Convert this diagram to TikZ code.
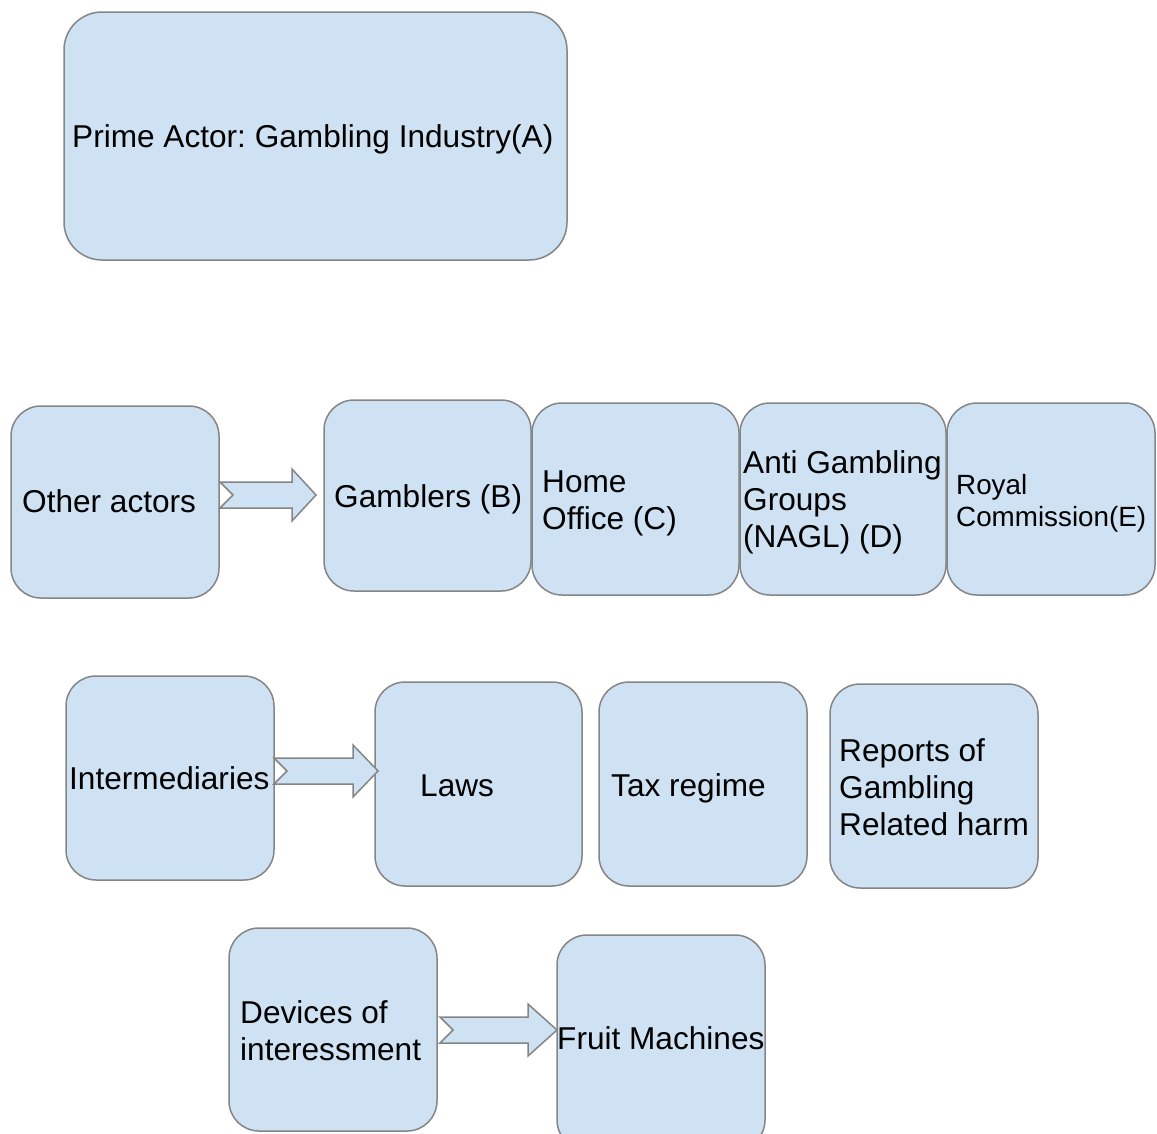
\documentclass[tikz,border=0pt]{standalone}
\usepackage{fontspec}
\setmainfont{Liberation Sans}
\frenchspacing
\definecolor{boxfill}{HTML}{CFE2F3}
\definecolor{boxline}{HTML}{858585}
\newcommand\blockarr[5]{% name, tail x, tip x, center y, head length
  \draw[arr] (#2,#4-13) -- (#3-#5,#4-13) -- (#3-#5,#4-26) -- (#3,#4)
    -- (#3-#5,#4+26) -- (#3-#5,#4+13) -- (#2,#4+13) -- (#2+13,#4) -- cycle;
  \coordinate (#1) at (#3,#4);}
\begin{document}
\begin{tikzpicture}[x=1pt,y=-1pt,
  box/.style={draw=boxline, fill=boxfill, line width=1.5pt, rounded corners=30pt,
    anchor=north west, inner sep=0pt, outer sep=0pt},
  bigbox/.style={box, rounded corners=38pt},
  txt/.style={anchor=base west, inner sep=0pt, font=\fontsize{31.6}{37}\selectfont},
  small/.style={txt, font=\fontsize{27.8}{32}\selectfont},
  arr/.style={draw=boxline, fill=boxfill, line width=1.5pt, line join=miter}]
\useasboundingbox (0,0) rectangle (1157,1133);
\clip (0,0) rectangle (1157,1133);
% boxes
\node[bigbox, minimum width=503pt, minimum height=248pt] (A) at (64,12) {};
\node[box, minimum width=208pt, minimum height=192pt] (oth) at (11,406) {};
\node[box, minimum width=207pt, minimum height=191pt] (B) at (324,400) {};
\node[box, minimum width=207pt, minimum height=192pt] (C) at (532,403) {};
\node[box, minimum width=206pt, minimum height=192pt] (D) at (740,403) {};
\node[box, minimum width=208pt, minimum height=192pt] (E) at (947,403) {};
\node[box, minimum width=208pt, minimum height=204pt] (int) at (66,676) {};
\node[box, minimum width=207pt, minimum height=204pt] (law) at (375,682) {};
\node[box, minimum width=208pt, minimum height=204pt] (tax) at (599,682) {};
\node[box, minimum width=208pt, minimum height=204pt] (rep) at (830,684) {};
\node[box, minimum width=208pt, minimum height=203pt] (dev) at (229,928) {};
\node[box, minimum width=208pt, minimum height=215pt] (fru) at (557,935) {};
% texts
\node[txt] (tA) at (72,147) {Prime Actor: Gambling Industry(A)};
\node[txt] (toth) at (22,512) {Other actors};
\node[txt] (tB) at (334,507) {Gamblers (B)};
\node[txt] (tC1) at (542,492) {Home};
\node[txt] (tC2) at (542,529) {Office (C)};
\node[txt] (tD1) at (743,473) {Anti Gambling};
\node[txt] (tD2) at (743,510) {Groups};
\node[txt] (tD3) at (743,547) {(NAGL) (D)};
\node[small] (tE1) at (956,494) {Royal};
\node[small] (tE2) at (956,526) {Commission(E)};
\node[txt] (tint) at (69,789) {Intermediaries};
\node[txt] (tlaw) at (420,796) {Laws};
\node[txt] (ttax) at (611,796) {Tax regime};
\node[txt] (trep1) at (839,761) {Reports of};
\node[txt] (trep2) at (839,798) {Gambling};
\node[txt] (trep3) at (839,835) {Related harm};
\node[txt] (tdev1) at (240,1023) {Devices of};
\node[txt] (tdev2) at (240,1060) {interessment};
\node[txt] (tfru) at (557,1049) {Fruit Machines};
% block arrows
\blockarr{a1}{220}{316}{495}{24}
\blockarr{a2}{274}{378}{771}{25}
\blockarr{a3}{440}{557}{1030}{29}
\end{tikzpicture}
\end{document}
